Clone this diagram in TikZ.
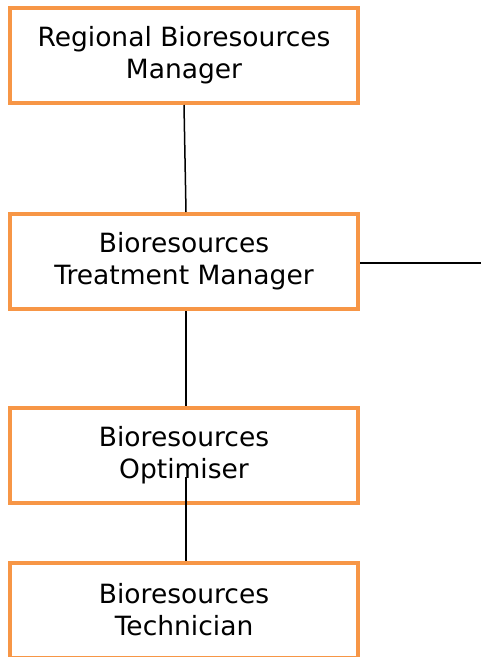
\documentclass[tikz,border=0pt]{standalone}
\usepackage{fontspec}
\setmainfont{DejaVu Sans}
\definecolor{postorange}{HTML}{F79646}
\tikzset{post/.style={draw=postorange,line width=4pt,minimum width=348pt,minimum height=95pt,
  inner sep=0pt,align=center,font=\fontsize{26.5}{32}\selectfont},
  link/.style={line width=1.5pt}}
\begin{document}
\begin{tikzpicture}[x=1pt,y=-1pt]
\useasboundingbox (0,0) rectangle (481,657);

\node[post] (regmgr) at (184,55.5) {Regional Bioresources\\Manager};
\node[post] (treatmgr) at (184,261.5) {Bioresources\\Treatment Manager};
\node[post] (optimiser) at (184,455) {Bioresources\\Optimiser};
\node[post] (technician) at (184,610) {Bioresources\\Technician};

\coordinate (offpage) at (481,263);

\draw[link] (regmgr.south) -- ([xshift=2pt]treatmgr.north);
\draw[link] ([xshift=2pt]treatmgr.south) -- ([xshift=2pt]optimiser.north);
\draw[link] ([xshift=2pt,yshift=-22pt]optimiser.center) -- ([xshift=2pt]technician.north);
\draw[link] ([yshift=-1.5pt]treatmgr.east) -- (offpage);

\end{tikzpicture}
\end{document}
